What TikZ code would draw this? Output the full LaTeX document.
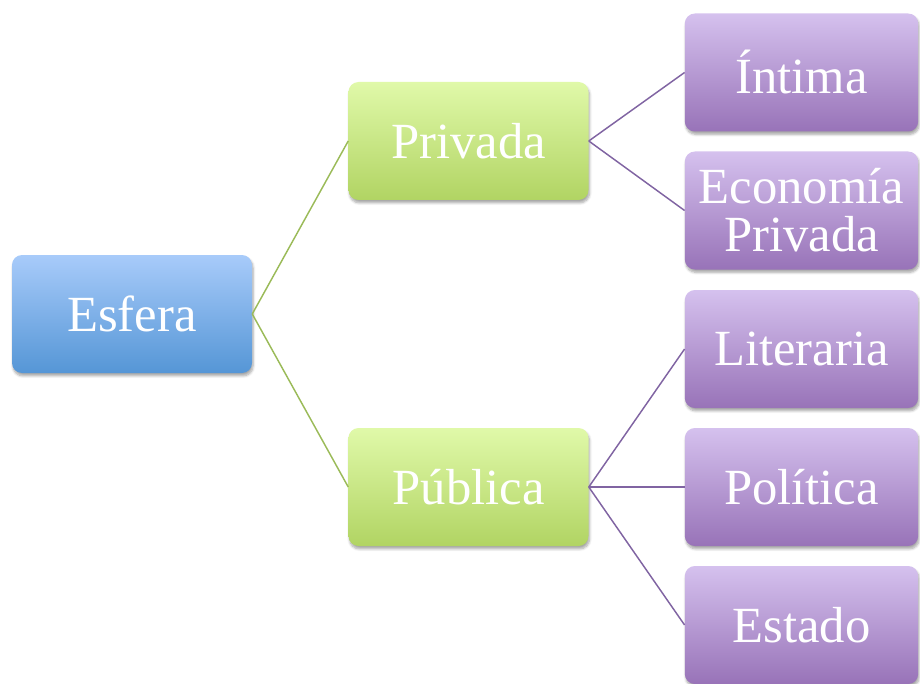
\documentclass[tikz,border=0pt]{standalone}
\usepackage{fontspec}
\setmainfont{Liberation Serif}
\usetikzlibrary{shadows.blur}
\definecolor{bluetop}{HTML}{A8CBFA}
\definecolor{bluebot}{HTML}{5596D6}
\definecolor{greentop}{HTML}{E0F9A9}
\definecolor{greenbot}{HTML}{B1D463}
\definecolor{purptop}{HTML}{D5C1EE}
\definecolor{purpbot}{HTML}{9873B8}
\definecolor{greenline}{HTML}{9BBB59}
\definecolor{purpline}{HTML}{8064A2}
\tikzset{
  box/.style={rectangle, rounded corners=7.5pt, text=white, align=center,
    font=\fontsize{38pt}{36pt}\selectfont, inner sep=0pt,
    blur shadow={shadow xshift=0.8pt, shadow yshift=-2.2pt, shadow blur steps=6, shadow opacity=35}},
  rootbox/.style={box, minimum width=180pt, minimum height=88.5pt, top color=bluetop, bottom color=bluebot},
  midbox/.style={box, minimum width=180pt, minimum height=88.5pt, top color=greentop, bottom color=greenbot},
  leafbox/.style={box, minimum width=175pt, minimum height=88.5pt, top color=purptop, bottom color=purpbot},
  gline/.style={draw=greenline, line width=1.1pt},
  pline/.style={draw=purpline, line width=1.1pt}
}
\begin{document}
\begin{tikzpicture}[x=0.75pt, y=-0.75pt]
\useasboundingbox (0,0) rectangle (920,684);
\node[rootbox] (esfera) at (132,314) {Esfera};
\node[midbox] (privada) at (468.5,141) {Privada};
\node[midbox] (publica) at (468.5,487) {Pública};
\node[leafbox] (intima) at (801.5,72.5) {Íntima};
\node[leafbox] (economia) at (801.5,210.5) {Economía\\Privada};
\node[leafbox] (literaria) at (801.5,349) {Literaria};
\node[leafbox] (politica) at (801.5,487) {Política};
\node[leafbox] (estado) at (801.5,625) {Estado};
\draw[gline] (esfera.east) -- (privada.west);
\draw[gline] (esfera.east) -- (publica.west);
\draw[pline] (privada.east) -- (intima.west);
\draw[pline] (privada.east) -- (economia.west);
\draw[pline] (publica.east) -- (literaria.west);
\draw[pline] (publica.east) -- (politica.west);
\draw[pline] (publica.east) -- (estado.west);
\end{tikzpicture}
\end{document}
